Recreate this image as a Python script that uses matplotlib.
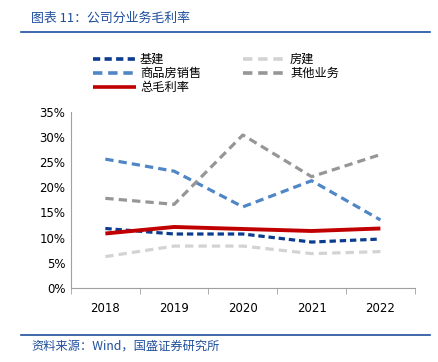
import numpy as np
import matplotlib
matplotlib.use('Agg')
import matplotlib.pyplot as plt
from matplotlib.lines import Line2D

plt.rcParams['font.family'] = ['DejaVu Sans', 'Noto Sans CJK SC']

years = ['2018', '2019', '2020', '2021', '2022']
jijian = [11.8, 10.7, 10.7, 9.1, 9.7]        # 基建
fangjian = [6.2, 8.3, 8.3, 6.8, 7.2]         # 房建
shangpin = [25.6, 23.2, 16.1, 21.3, 13.5]    # 商品房销售
qita = [17.8, 16.6, 30.4, 22.1, 26.5]        # 其他业务
total = [10.8, 12.1, 11.7, 11.3, 11.8]       # 总毛利率

names = ['基建', '房建', '商品房销售', '其他业务', '总毛利率']
colors = ['#0B3C8F', '#D3D3D3', '#4F86C6', '#969696', '#C00000']
cjk = ['Noto Sans CJK SC', 'DejaVu Sans']

fig = plt.figure(figsize=(4.38, 3.62), dpi=100)
ax = fig.add_axes([0.162, 0.205, 0.785, 0.486])

x = np.arange(len(years))
series = [jijian, fangjian, shangpin, qita, total]
dash_styles = [(0, (2.0, 1.2)), (0, (2.6, 1.6)), (0, (2.6, 1.6)), (0, (2.6, 1.6)), '-']
for vals, c, ls, n in zip(series, colors, dash_styles, names):
    lw = 2.8 if n == '总毛利率' else 2.3
    ax.plot(x, vals, color=c, lw=lw, linestyle=ls, solid_capstyle='butt')

ax.set_xlim(-0.5, 4.5)
ax.set_ylim(0, 35)
ax.set_yticks(np.arange(0, 36, 5))
ax.set_yticklabels(['%d%%' % v for v in range(0, 36, 5)], fontsize=8.5)
ax.set_xticks(x)
ax.set_xticklabels(years, fontsize=8.5)
ax.set_xticks(np.arange(-0.5, 4.6, 1), minor=True)
ax.tick_params(axis='x', which='major', length=0, pad=10)
ax.tick_params(axis='x', which='minor', length=4, color='#A0A0A0', direction='out')
ax.tick_params(axis='y', length=0, pad=4)
for s in ['top', 'right']:
    ax.spines[s].set_visible(False)
for s in ['left', 'bottom']:
    ax.spines[s].set_color('#A0A0A0')
    ax.spines[s].set_linewidth(0.8)

# legend, drawn manually in figure coords
leg_pos = [(93, 59), (243, 59), (93, 73), (243, 73), (93, 87)]
for (px, py), c, ls, n in zip(leg_pos, colors, dash_styles, names):
    xs = [px / 438, (px + 43) / 438]
    ys = [1 - py / 362] * 2
    fig.add_artist(Line2D(xs, ys, color=c, lw=2.6, linestyle=ls, solid_capstyle='butt'))
    fig.text((px + 47) / 438, 1 - py / 362, n, fontsize=8.8, family=cjk, va='center', ha='left')

# title and source
fig.text(31 / 438, 1 - 18 / 362, '图表 11：公司分业务毛利率', fontsize=9.3, family=cjk,
         color='#1F4E9C', style='italic', va='center', ha='left')
fig.add_artist(Line2D([21 / 438, 430 / 438], [1 - 32 / 362] * 2, color='#1F4E9C', lw=1.2))
fig.add_artist(Line2D([21 / 438, 430 / 438], [1 - 335 / 362] * 2, color='#1F4E9C', lw=1.2))
fig.text(31 / 438, 1 - 346 / 362, '资料来源：Wind，国盛证券研究所', fontsize=8.8, family=cjk,
         color='#1F4E9C', style='italic', va='center', ha='left')

fig.savefig('out.png', dpi=100)
